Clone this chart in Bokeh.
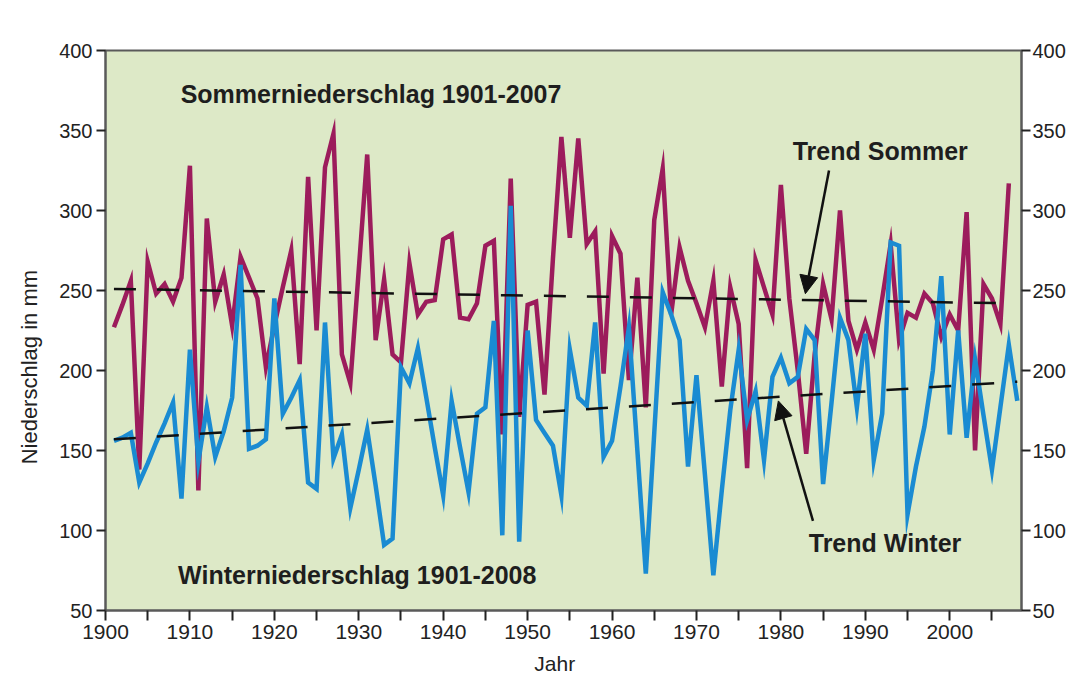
from bokeh.plotting import figure
from bokeh.models import Label, Arrow, NormalHead, LinearAxis, FixedTicker, Range1d
from bokeh.embed import file_html
from bokeh.resources import INLINE

# ---------------- data ----------------
summer_years = list(range(1901, 2008))
summer_mm = [227, 241, 256, 138, 268, 248, 254, 243, 258, 328,
             125, 295, 243, 260, 228, 271, 258, 245, 202, 228,
             252, 275, 204, 321, 225, 327, 348, 210, 192, 263,
             335, 219, 257, 210, 205, 267, 235, 243, 244, 282,
             285, 233, 232, 242, 278, 281, 160, 320, 171, 241,
             243, 185, 270, 346, 283, 345, 279, 287, 198, 284,
             273, 194, 258, 177, 294, 326, 235, 277, 256, 242,
             227, 256, 190, 252, 229, 139, 269, 252, 235, 316,
             245, 200, 148, 210, 254, 232, 300, 231, 213, 230,
             213, 245, 279, 219, 236, 233, 248, 242, 221, 235,
             225, 299, 150, 254, 245, 229, 317]

winter_years = list(range(1901, 2009))
winter_mm = [156, 158, 161, 130, 142, 155, 167, 180, 120, 213,
             143, 177, 146, 162, 183, 266, 151, 153, 157, 245,
             173, 183, 194, 130, 126, 230, 145, 160, 114, 138,
             163, 128, 91, 95, 202, 192, 214, 183, 152, 122,
             181, 152, 124, 173, 177, 231, 97, 303, 93, 225,
             169, 161, 153, 122, 213, 183, 178, 230, 146, 156,
             190, 227, 150, 73, 161, 249, 235, 219, 140, 197,
             135, 72, 125, 175, 213, 169, 187, 144, 196, 208,
             192, 196, 226, 219, 129, 180, 233, 219, 177, 223,
             144, 173, 280, 278, 110, 140, 165, 200, 259, 160,
             225, 158, 207, 172, 138, 177, 216, 181]

trend_summer_x = [1901, 2007]
trend_summer_y = [251, 242]
trend_winter_x = [1901, 2008]
trend_winter_y = [157, 193]

y_ticks = [50, 100, 150, 200, 250, 300, 350, 400]
x_major = [1900, 1910, 1920, 1930, 1940, 1950, 1960, 1970, 1980, 1990, 2000]
x_minor = [1905, 1915, 1925, 1935, 1945, 1955, 1965, 1975, 1985, 1995, 2005]

# ---------------- figure ----------------
FONT = "Liberation Sans"
p = figure(frame_width=916, frame_height=560,
           x_range=Range1d(1900, 2008.5), y_range=Range1d(50, 400),
           output_backend="svg", toolbar_location=None,
           min_border_left=105, min_border_top=50,
           min_border_right=50, min_border_bottom=64)

p.background_fill_color = "#dde9c7"
p.border_fill_color = "#ffffff"
p.outline_line_color = "#5a5a5a"
p.outline_line_width = 2
p.xgrid.visible = False
p.ygrid.visible = False

# x axis
xa = p.xaxis[0]
xa.ticker = FixedTicker(ticks=x_major, minor_ticks=x_minor)
xa.major_tick_out = 10
xa.major_tick_in = 0
xa.minor_tick_out = 10
xa.minor_tick_in = 0
xa.major_tick_line_color = "#222222"
xa.minor_tick_line_color = "#222222"
xa.major_tick_line_width = 2
xa.minor_tick_line_width = 2
xa.axis_line_color = "#5a5a5a"
xa.axis_line_width = 2
xa.major_label_text_font = FONT
xa.major_label_text_font_size = "21px"
xa.major_label_text_color = "#222222"
xa.major_label_standoff = 4
xa.axis_label = "Jahr" + "\u00a0" * 3
xa.axis_label_text_font = FONT
xa.axis_label_text_font_size = "21px"
xa.axis_label_text_font_style = "normal"
xa.axis_label_text_color = "#222222"
xa.axis_label_standoff = 10

# left y axis
ya = p.yaxis[0]
ya.ticker = FixedTicker(ticks=y_ticks)
ya.major_tick_out = 9
ya.major_tick_in = 0
ya.minor_tick_out = 0
ya.minor_tick_in = 0
ya.major_tick_line_color = "#222222"
ya.major_tick_line_width = 2
ya.axis_line_color = "#5a5a5a"
ya.axis_line_width = 2
ya.major_label_text_font = FONT
ya.major_label_text_font_size = "20px"
ya.major_label_text_color = "#222222"
ya.major_label_standoff = 4
ya.axis_label = "Niederschlag in mm" + "\u00a0" * 12
ya.axis_label_text_font = FONT
ya.axis_label_text_font_size = "22px"
ya.axis_label_text_font_style = "normal"
ya.axis_label_text_color = "#222222"
ya.axis_label_standoff = 14

# right y axis
ra = LinearAxis(ticker=FixedTicker(ticks=y_ticks))
ra.major_tick_out = 9
ra.major_tick_in = 0
ra.minor_tick_out = 0
ra.minor_tick_in = 0
ra.major_tick_line_color = "#222222"
ra.major_tick_line_width = 2
ra.axis_line_color = "#5a5a5a"
ra.axis_line_width = 2
ra.major_label_text_font = FONT
ra.major_label_text_font_size = "20px"
ra.major_label_text_color = "#222222"
ra.major_label_standoff = 2
p.add_layout(ra, "right")

# series
p.line(summer_years, summer_mm, line_color="#9c1c5c", line_width=4.5,
       line_join="miter")
p.line(winter_years, winter_mm, line_color="#1a8bd2", line_width=4.5,
       line_join="miter")

# trends
p.line(trend_summer_x, trend_summer_y, line_color="#111111", line_width=2.5,
       line_dash="22 21", line_dash_offset=0)
p.line(trend_winter_x, trend_winter_y, line_color="#111111", line_width=2.5,
       line_dash="22 21", line_dash_offset=0)

# annotations
def bold_label(x, y, txt):
    p.add_layout(Label(x=x, y=y, text=txt, text_font=FONT,
                       text_font_size="25px", text_font_style="bold",
                       text_color="#1e1e1e", text_align="left",
                       text_baseline="middle"))

bold_label(1908.9, 373, "Sommerniederschlag 1901-2007")
bold_label(1908.6, 72, "Winterniederschlag 1901-2008")
bold_label(1981.4, 337.5, "Trend Sommer")
bold_label(1983.3, 92.5, "Trend Winter")

p.add_layout(Arrow(x_start=1985.7, y_start=325, x_end=1982.9, y_end=248,
                   line_color="#111111", line_width=2.5,
                   end=NormalHead(size=18, fill_color="#111111",
                                  line_color="#111111")))
p.add_layout(Arrow(x_start=1983.8, y_start=106, x_end=1979.7, y_end=181,
                   line_color="#111111", line_width=2.5,
                   end=NormalHead(size=18, fill_color="#111111",
                                  line_color="#111111")))

open("out.html", "w").write(file_html(p, INLINE))
